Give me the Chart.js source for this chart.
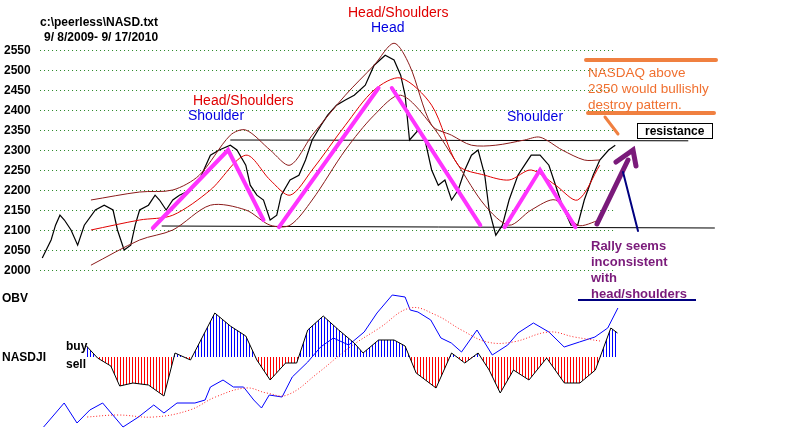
<!DOCTYPE html>
<html><head><meta charset="utf-8">
<script src="https://cdn.jsdelivr.net/npm/chart.js@4/dist/chart.umd.min.js"></script>
<style>
body{margin:0;background:#fff;width:800px;height:429px;position:relative;overflow:hidden}
#top{position:absolute;left:0;top:0}
#bot{position:absolute;left:0;top:280px}
</style></head><body>
<div id="top" style="width:800px;height:300px"><canvas id="c1"></canvas></div>
<div id="bot" style="width:800px;height:149px"><canvas id="c2"></canvas></div>
<script>
// price panel (x = trading day since 9/8/2009)
const priceDays = [1,5,7,9,11,14,17,20,25,29,33,35,38,41,43,45,49,52,54,57,60,63,68,72,77,81,86,89,93,95,98,101,104,107,109,113,117,120,123,127,130,134,138,142,147,151,156,160,163,165,167,171,174,177,180,183,186,189,192,195,198,201,203,206,209,212,216,219,222,226,230,233,236,240,243,246,250,253,257,260];
const priceClose = [2030,2075,2112,2137,2125,2100,2062,2112,2150,2162,2150,2100,2050,2062,2112,2150,2162,2187,2175,2150,2175,2187,2200,2225,2287,2300,2312,2300,2262,2212,2187,2175,2125,2137,2187,2225,2237,2275,2325,2362,2387,2412,2425,2437,2462,2512,2537,2525,2487,2437,2325,2350,2325,2250,2212,2225,2175,2200,2250,2287,2300,2237,2150,2087,2112,2175,2237,2262,2287,2287,2262,2212,2162,2112,2112,2175,2237,2275,2300,2312];
const bandDays = [23,45,60,72,86,93,104,113,123,138,151,160,167,177,186,195,206,219,226,236,246,253];
const upperBand = [2175,2195,2200,2237,2337,2350,2300,2262,2337,2437,2512,2567,2512,2362,2337,2312,2312,2325,2332,2300,2275,2275];
const midDays = [23,45,60,77,93,104,113,123,138,151,163,177,189,201,212,222,233,243,253];
const midBand = [2100,2125,2137,2200,2287,2225,2187,2250,2362,2450,2480,2412,2262,2237,2225,2250,2212,2175,2262];
const lowerBand = [2012,2075,2100,2162,2150,2112,2112,2175,2300,2387,2437,2362,2262,2162,2112,2150,2175,2112,2125];
const patternDays = [51,85,101,104,108,153,155,159,199,204,210,226,242];
const patternVals = [2105,2300,2125,null,2107,2455,null,2455,2112,null,2107,2250,2107];
const priceTicks = [2550,2500,2450,2400,2350,2300,2250,2200,2150,2100,2050,2000];
const supportLevel = 2110, resistanceLevel = 2325;

// indicator panel
const histDays = [21,26,32,36,42,49,56,61,68,72,79,86,93,98,104,111,116,121,128,135,142,146,153,160,165,170,179,186,192,198,203,208,214,221,229,237,244,251,258,261];
const histVals = [83,71,63,43,46,44,33,76,69,86,116,103,93,69,49,66,66,99,113,99,86,76,89,89,83,56,41,76,66,76,59,36,59,49,71,46,46,59,101,96];
const histBase = 72;
const obvDays = [1.6,10.9,16.7,22.5,28.3,37.5,44.5,51.4,56,61.9,70,74.6,77,82.7,87.4,92,96.6,100.1,103.6,109.4,114,121,126.8,132.6,139.5,146.5,152.3,159.2,165,167.3,170.8,176.6,181.2,185.9,190.5,197.5,204.4,211.4,216,223,230,236.9,243.8,250.8,256.6,261.2];
const obvVals = [2,26,6,19,26,2,12,24,16,26,26,29,42,49,42,42,29,21,34,32,52,67,82,91,84,97,116,134,132,119,117,109,91,86,77,99,74,84,96,106,97,82,87,92,101,121];
const obvMaDays = [21.3,35.2,51.4,67.7,79.3,93.2,102.4,111.7,125.6,139.5,153.4,167.3,178.9,190.5,202.1,213.7,230,241.5,253.1];
const obvMaVals = [12,14,12,19,32,41,36,34,56,81,101,121,114,99,87,87,97,92,88];

const XMIN = -18.1, XMAX = 343.5, GRID_END = 260;
const zip = (xs, ys) => xs.map((x, i) => ({x: x, y: ys[i]}));

function stripes(color) {
  const c = document.createElement("canvas");
  c.width = 3; c.height = 4;
  const g = c.getContext("2d");
  g.fillStyle = color; g.fillRect(0, 0, 1, 4);
  return g.createPattern(c, "repeat");
}

const topDecor = {
  id: "topDecor",
  beforeDatasetsDraw(chart) {
    const {ctx, scales: {x, y}} = chart;
    ctx.save();
    ctx.strokeStyle = "#2a8a2a"; ctx.setLineDash([1, 3]); ctx.lineWidth = 1;
    ctx.font = "bold 12px Arial"; ctx.fillStyle = "#000"; ctx.textBaseline = "middle";
    priceTicks.forEach(t => {
      const py = Math.round(y.getPixelForValue(t)) + 0.5;
      ctx.beginPath(); ctx.moveTo(x.getPixelForValue(0), py); ctx.lineTo(x.getPixelForValue(GRID_END), py); ctx.stroke();
      ctx.fillText(String(t), 4, py);
    });
    ctx.setLineDash([]);
    ctx.strokeStyle = "#000";
    ctx.beginPath();
    ctx.moveTo(x.getPixelForValue(55), y.getPixelForValue(supportLevel));
    ctx.lineTo(x.getPixelForValue(305), y.getPixelForValue(supportLevel - 5));
    ctx.moveTo(x.getPixelForValue(86), y.getPixelForValue(resistanceLevel));
    ctx.lineTo(x.getPixelForValue(293), y.getPixelForValue(resistanceLevel - 2));
    ctx.stroke();
    ctx.restore();
  },
  afterDatasetsDraw(chart) {
    const {ctx} = chart;
    ctx.save();
    ctx.textBaseline = "alphabetic";
    ctx.font = "bold 12px Arial"; ctx.fillStyle = "#000";
    ctx.fillText("c:\\peerless\\NASD.txt", 40, 26);
    ctx.fillText("9/ 8/2009- 9/ 17/2010", 44, 41);
    ctx.font = "14px Arial";
    ctx.fillStyle = "#e00000";
    ctx.fillText("Head/Shoulders", 348, 17);
    ctx.fillText("Head/Shoulders", 193, 105);
    ctx.fillStyle = "#0000e0";
    ctx.fillText("Head", 371, 32);
    ctx.fillText("Shoulder", 188, 120);
    ctx.fillText("Shoulder", 507, 121);
    // orange note
    ctx.strokeStyle = "#f08040"; ctx.lineCap = "round";
    ctx.lineWidth = 4;
    ctx.beginPath(); ctx.moveTo(586, 60); ctx.lineTo(716, 60); ctx.moveTo(588, 113); ctx.lineTo(714, 113); ctx.stroke();
    ctx.lineWidth = 3;
    ctx.beginPath(); ctx.moveTo(605, 117); ctx.lineTo(618, 134); ctx.stroke();
    ctx.fillStyle = "#f07030"; ctx.font = "13.5px Arial";
    ctx.fillText("NASDAQ above", 588, 77);
    ctx.fillText("2350 would bullishly", 588, 93);
    ctx.fillText("destroy pattern.", 588, 109);
    // resistance box
    ctx.lineWidth = 1; ctx.strokeStyle = "#000";
    ctx.fillStyle = "#fff"; ctx.fillRect(637, 123, 75, 15); ctx.strokeRect(637.5, 123.5, 75, 15);
    ctx.fillStyle = "#000"; ctx.font = "bold 12px Arial";
    ctx.fillText("resistance", 645, 135);
    // purple arrow
    ctx.strokeStyle = "#7a1a7a"; ctx.lineWidth = 5;
    ctx.beginPath(); ctx.moveTo(597, 224); ctx.lineTo(628, 160); ctx.stroke();
    ctx.beginPath(); ctx.moveTo(616, 162); ctx.lineTo(633, 150); ctx.lineTo(636, 166); ctx.stroke();
    // navy pointer
    ctx.strokeStyle = "#000080"; ctx.lineWidth = 2;
    ctx.beginPath(); ctx.moveTo(623, 172); ctx.lineTo(638, 231); ctx.stroke();
    ctx.fillStyle = "#7a1a7a"; ctx.font = "bold 13px Arial";
    ctx.fillText("Rally seems", 591, 250);
    ctx.fillText("inconsistent", 591, 266);
    ctx.fillText("with", 591, 282);
    ctx.fillText("head/shoulders", 591, 298);
    ctx.restore();
  }
};

const botDecor = {
  id: "botDecor",
  afterDatasetsDraw(chart) {
    const {ctx} = chart;
    ctx.save();
    ctx.fillStyle = "#000"; ctx.font = "bold 12px Arial";
    ctx.fillText("OBV", 2, 22);
    ctx.fillText("NASDJI", 2, 81);
    ctx.fillText("buy", 66, 70);
    ctx.fillText("sell", 66, 88);
    ctx.strokeStyle = "#000080"; ctx.lineWidth = 2;
    ctx.beginPath(); ctx.moveTo(578, 20); ctx.lineTo(696, 20); ctx.stroke();
    ctx.restore();
  }
};

const xScale = {type: "linear", min: XMIN, max: XMAX, display: false};
const line = (data, color, w, extra) => Object.assign({type: "line", data: data, borderColor: color, borderWidth: w, pointRadius: 0, tension: 0, fill: false}, extra || {});

new Chart(document.getElementById("c1"), {
  data: {datasets: [
    line(zip(patternDays, patternVals), "#ff33ff", 4, {spanGaps: false, borderCapStyle: "round"}),
    line(zip(bandDays, upperBand), "#8b1a1a", 1, {tension: 0.3}),
    line(zip(midDays, midBand), "#e00000", 1, {tension: 0.3}),
    line(zip(midDays, lowerBand), "#8b1a1a", 1, {tension: 0.3}),
    line(zip(priceDays, priceClose), "#000", 1.2)
  ]},
  options: {
    responsive: true, maintainAspectRatio: false, animation: false,
    layout: {padding: 0},
    plugins: {legend: {display: false}, tooltip: {enabled: false}},
    scales: {x: xScale, y: {min: 1925, max: 2675, display: false}}
  },
  plugins: [topDecor]
});

new Chart(document.getElementById("c2"), {
  data: {datasets: [
    line(zip(histDays, histVals), "#000", 1, {fill: {value: histBase, above: stripes("#0000ff"), below: stripes("#ff0000")}}),
    line(zip(obvMaDays, obvMaVals), "#ff2020", 1, {borderDash: [1, 2], tension: 0.4}),
    line(zip(obvDays, obvVals), "#0000ff", 1)
  ]},
  options: {
    responsive: true, maintainAspectRatio: false, animation: false,
    layout: {padding: 0},
    plugins: {legend: {display: false}, tooltip: {enabled: false}, filler: {propagate: false}},
    scales: {x: xScale, y: {min: 0, max: 149, display: false}}
  },
  plugins: [botDecor]
});
</script>
</body></html>
